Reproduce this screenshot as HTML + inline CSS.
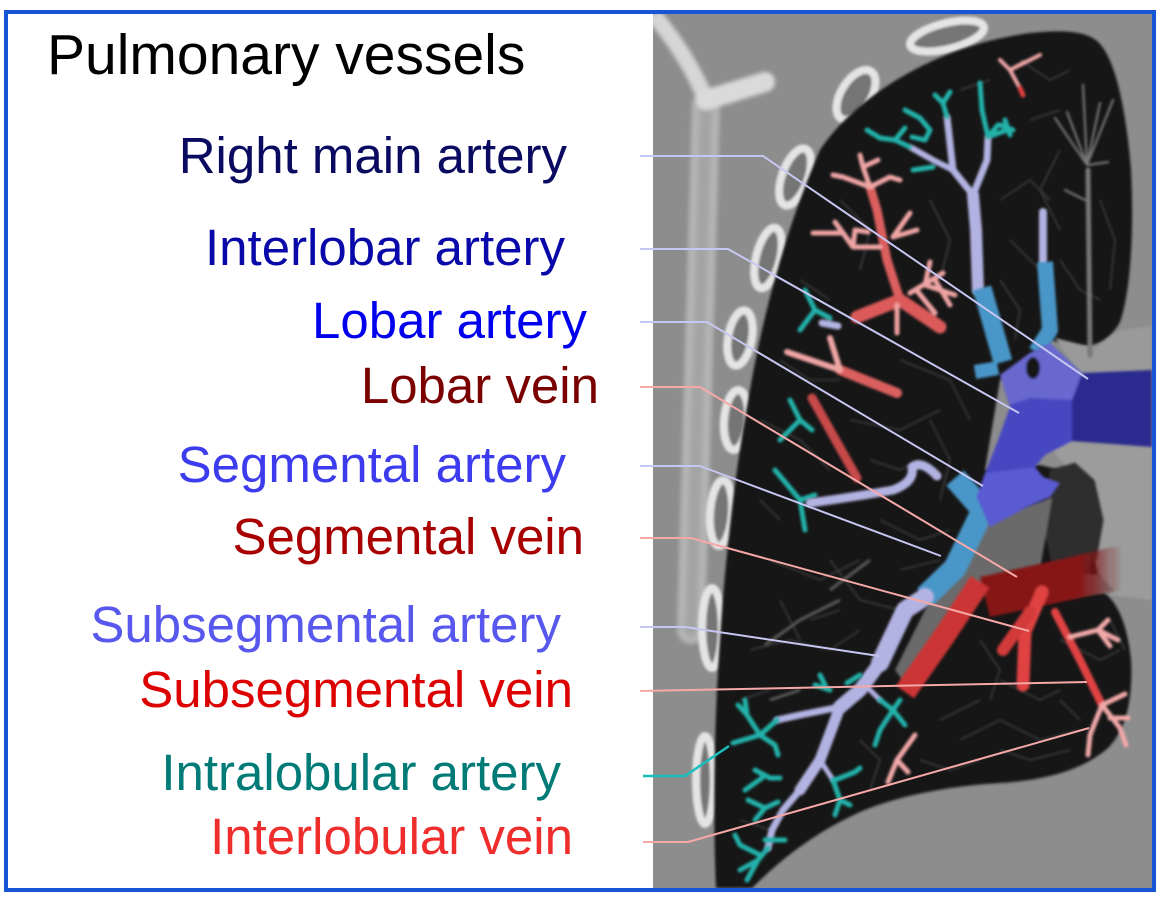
<!DOCTYPE html>
<html><head><meta charset="utf-8"><style>
html,body{margin:0;padding:0;background:#fff;}
svg{display:block;}
text{font-family:"Liberation Sans",Arial,sans-serif;}
</style></head><body>
<svg width="1170" height="902" viewBox="0 0 1170 902" xmlns="http://www.w3.org/2000/svg">
<defs>
<clipPath id="ct"><rect x="653" y="14" width="499" height="874"/></clipPath>
<filter id="b1" x="-20%" y="-20%" width="140%" height="140%"><feGaussianBlur stdDeviation="1.2"/></filter>
<filter id="b2" x="-20%" y="-20%" width="140%" height="140%"><feGaussianBlur stdDeviation="2.2"/></filter>
<filter id="b4" x="-20%" y="-20%" width="140%" height="140%"><feGaussianBlur stdDeviation="4"/></filter>
<linearGradient id="lv" gradientUnits="userSpaceOnUse" x1="1080" y1="0" x2="1122" y2="0">
<stop offset="0" stop-color="#861616" stop-opacity="1"/>
<stop offset="1" stop-color="#861616" stop-opacity="0"/>
</linearGradient>
</defs>
<rect width="1170" height="902" fill="#fff"/>

<g clip-path="url(#ct)">
<rect x="653" y="14" width="499" height="874" fill="#8d8d8d"/>
<!-- bone Y -->
<g filter="url(#b2)" fill="none" stroke-linecap="round">
<path d="M706,105 Q700,300 691,630" stroke="#b4b4b4" stroke-width="28"/>
<path d="M706,105 Q700,300 691,630" stroke="#a4a4a4" stroke-width="12"/>
<path d="M658,20 Q690,60 706,100" stroke="#d6d6d6" stroke-width="16"/>
<path d="M706,100 L765,82" stroke="#dadada" stroke-width="20"/>
</g>
<!-- ribs -->
<g filter="url(#b1)" stroke="#e4e4e4" stroke-width="8" fill="#747474">
<ellipse cx="947" cy="36" rx="38" ry="13" transform="rotate(-14 947 36)"/>
<ellipse cx="856" cy="95" rx="15" ry="28" transform="rotate(32 856 95)"/>
<ellipse cx="795" cy="177" rx="13" ry="30" transform="rotate(20 795 177)"/>
<ellipse cx="768" cy="258" rx="12" ry="31" transform="rotate(14 768 258)"/>
<ellipse cx="740" cy="338" rx="12" ry="28" transform="rotate(10 740 338)"/>
<ellipse cx="736" cy="420" rx="12" ry="30" transform="rotate(5 736 420)"/>
<ellipse cx="721" cy="513" rx="11" ry="33" transform="rotate(4 721 513)"/>
<ellipse cx="712" cy="628" rx="10" ry="40"/>
<ellipse cx="705" cy="780" rx="9" ry="44"/>
</g>
<!-- lung -->
<path filter="url(#b1)" fill="#181818" d="M820,150 C840,120 870,95 905,75 C940,55 980,40 1030,33 C1060,30 1088,30 1100,44 C1116,62 1126,110 1131,170 C1134,230 1131,290 1120,322 C1110,340 1095,348 1075,346 L1050,340 L1040,360 L1000,380 L985,470 L1040,465 L1060,470 L1090,478 L1102,520 L1095,560 L1100,590 C1115,598 1127,620 1131,660 C1133,700 1126,730 1108,748 C1085,768 1050,780 1000,783 C950,786 900,795 860,812 C820,830 785,855 752,888 L716,888 C713,820 714,720 720,640 C725,560 735,470 750,390 C762,320 785,230 820,150 Z"/>
<!-- mediastinum / hilum grays -->
<g filter="url(#b1)">
<path d="M1055,338 L1095,348 L1120,330 L1152,326 L1152,380 L1082,378 Z" fill="#9a9a9a"/>
<path d="M1045,442 L1152,440 L1152,600 L1110,595 L1095,560 L1070,470 Z" fill="#9c9c9c"/>
<path d="M1050,470 L1075,462 L1095,480 L1104,520 L1097,560 L1078,572 L1052,565 L1042,520 Z" fill="#2e2e2e"/>
<path d="M985,520 L1030,505 L1052,498 L1045,540 L1040,570 L990,585 L960,600 L935,645 L910,690 L895,670 L925,610 L960,565 Z" fill="#6a6a6a"/>
<path d="M1040,570 L1100,575 L1115,592 L1040,600 Z" fill="#7a7a7a"/>
</g>
<!-- lung texture -->
<g fill="none" stroke="#424242" stroke-width="1.6" opacity=".9" filter="url(#b1)">
<path d="M760,420 L800,440 L830,470"/><path d="M770,560 L820,580 L860,560"/>
<path d="M750,650 L790,640 L830,650 L860,630"/><path d="M880,520 L920,540 L950,530"/>
<path d="M850,420 L900,430 L940,410"/><path d="M900,360 L950,380 L970,420"/>
<path d="M960,740 L1000,720 L1040,740 L1080,730"/><path d="M1000,680 L1040,700 L1060,690"/>
<path d="M1060,640 L1100,660 L1120,650"/><path d="M940,720 L980,700"/>
<path d="M1010,240 L1040,270"/><path d="M1000,200 L1030,180 L1050,200"/>
<path d="M830,560 L860,600 L900,610"/><path d="M780,600 L800,640"/>
<path d="M930,420 L950,460 L940,500"/><path d="M1060,150 L1040,190 L1060,230"/>
<path d="M840,200 L870,230 L860,270"/><path d="M930,200 L950,240 L940,280"/>
<path d="M1000,280 L1020,310 L1015,340"/><path d="M1060,260 L1080,290 L1100,300"/>
<path d="M1100,200 L1115,240 L1110,290"/><path d="M1020,60 L1050,80 L1070,70"/>
<path d="M960,90 L990,80"/><path d="M1030,120 L1060,110"/>
<path d="M800,280 L830,300"/><path d="M780,360 L810,380 L840,380"/>
<path d="M870,460 L900,470 L920,460"/><path d="M760,500 L780,520"/>
<path d="M740,700 L770,690"/><path d="M740,820 L770,830"/>
<path d="M860,740 L880,760 L870,790"/><path d="M920,760 L950,770 L980,760"/>
<path d="M1000,750 L1030,760 L1070,750"/><path d="M1060,700 L1080,720"/>
<path d="M1110,620 L1125,650"/><path d="M980,640 L1000,670 L990,700"/>
<path d="M900,570 L940,560"/><path d="M810,620 L840,610"/>
</g>
<g fill="none" stroke="#5a5a5a" stroke-width="3" filter="url(#b1)">
<path d="M765,645 L800,620 L840,600"/><path d="M770,700 L800,690"/>
<path d="M830,590 L870,560"/>
</g>
<!-- gray tree upper right -->
<g fill="none" stroke="#777" stroke-linecap="round" filter="url(#b1)">
<path d="M1088,170 L1090,355" stroke-width="5"/>
<path d="M1087,165 L1055,118 M1087,165 L1067,112 M1087,165 L1083,85 M1087,165 L1100,103 M1087,165 L1113,100 M1088,165 L1108,162 M1085,200 L1065,190" stroke-width="2.2"/>
</g>

<!-- upper red veins -->
<g fill="none" stroke-linecap="round" stroke-linejoin="round" filter="url(#b1)">
<path d="M900,300 L887,260 L877,210 L870,187" stroke="#dc5f5f" stroke-width="9"/>
<path d="M857,317 L900,300 L940,327" stroke="#dc5a5a" stroke-width="13"/>
<path d="M897,333 L897,305" stroke="#f0a0a0" stroke-width="5"/>
<g stroke="#f0a4a4" stroke-width="5">
<path d="M870,187 L843,177 L833,175 M870,187 L863,167 L860,155 M870,187 L890,177 L900,180 M863,167 L878,160"/>
<path d="M880,247 L853,247 L855,230 L868,232 M853,247 L843,233 L813,233 M843,233 L835,222"/>
<path d="M893,237 L910,213 M893,237 L917,230"/>
<path d="M910,293 L943,273 M925,285 L930,262 M925,285 L955,295 M935,280 L950,305 M918,292 L935,313"/>
</g>
<path d="M897,393 L840,370" stroke="#dc5f5f" stroke-width="10"/>
<path d="M840,370 L830,338 M840,370 L787,352" stroke="#f0a4a4" stroke-width="6"/>
<path d="M812,398 L857,478" stroke="#c84a4a" stroke-width="9"/>
<path d="M1022,92 L1010,70 L1000,60 M1010,70 L1040,55 M1010,70 L1025,62" stroke="#f0a4a4" stroke-width="4"/>
<path d="M1020,88 L1023,95" stroke="#e04040" stroke-width="5"/>
</g>

<!-- upper arteries lavender + teal -->
<g fill="none" stroke-linecap="round" stroke-linejoin="round" filter="url(#b1)">
<path d="M978,290 L976,230 L973,195" stroke="#b3b3e3" stroke-width="12"/>
<path d="M973,195 L953,170 L947,117" stroke="#b3b3e3" stroke-width="7"/>
<path d="M953,170 L933,160 L910,147" stroke="#b3b3e3" stroke-width="6"/>
<path d="M973,195 L987,160 L988,137" stroke="#b3b3e3" stroke-width="7"/>
<path d="M1043,212 L1043,262" stroke="#b3b3e3" stroke-width="8"/>
<g stroke="#22b2aa" stroke-width="5">
<path d="M947,117 L943,103 L935,95 M943,103 L950,92"/>
<path d="M988,137 L982,110 L980,83 M988,137 L1007,130 M988,137 L998,125"/>
<path d="M910,147 L895,140 L880,138 L867,130 M895,140 L905,128"/>
<path d="M905,110 L920,118 L930,130 L925,140 L912,137"/>
<path d="M913,170 L933,167"/>
<path d="M1000,125 L1013,130 M1005,120 L1010,135"/>
</g>
<g stroke="#22b2aa" stroke-width="5">
<path d="M805,290 L815,310 L800,330 M815,310 L830,318"/>
<path d="M790,400 L800,420 L780,440 M800,420 L812,430"/>
<path d="M775,470 L800,500 L805,530 M800,500 L815,495"/>
</g>
<path d="M822,323 L838,326" stroke="#b3b3e3" stroke-width="7"/>
</g>

<!-- lobar arteries steel blue -->
<g fill="none" stroke="#4a96c8" stroke-linejoin="round" filter="url(#b1)">
<path d="M982,288 L1003,362" stroke-width="19"/>
<path d="M975,372 L998,368" stroke-width="14"/>
<path d="M1045,262 L1050,330 L1036,352" stroke-width="16"/>
<path d="M955,478 L983,510 L955,568 L925,597" stroke-width="23"/>
</g>

<!-- central pulmonary arteries -->
<g filter="url(#b1)">
<path d="M1082,373 L1152,370 L1152,447 L1072,441 Q1066,400 1082,373 Z" fill="#2b2b8f"/>
<path d="M1000,375 L1030,353 L1050,343 L1082,373 L1072,400 L1072,441 L1045,455 L1035,467 L1043,477 L1060,483 L1050,497 L1027,507 L990,527 L977,497 L985,473 L997,443 L1010,407 Z" fill="#4646c2"/>
<path d="M1000,375 L1030,353 L1050,343 L1082,373 L1072,400 L1030,398 L1010,405 Z" fill="#6767cf"/>
<path d="M977,497 L985,473 L1035,467 L1043,477 L1060,483 L1050,497 L1027,507 L990,527 Z" fill="#5a5ad2"/>
<ellipse cx="1033" cy="368" rx="7" ry="11" fill="#121212"/>
</g>

<!-- segmental / subsegmental lavender -->
<g fill="none" stroke="#b3b3e3" stroke-linecap="round" stroke-linejoin="round" filter="url(#b1)">
<path d="M810,503 Q860,496 893,490 Q915,482 912,467 Q922,460 937,476" stroke-width="9"/>
<path d="M925,597 L905,610 L880,663" stroke-width="18"/>
<path d="M880,663 L860,690 L840,707" stroke-width="14"/>
<path d="M840,707 L820,760 L800,790" stroke-width="11"/>
<path d="M800,790 L783,810 L772,830 L768,848" stroke-width="7"/>
<path d="M840,707 L800,715 L777,720" stroke-width="7"/>
<path d="M870,690 L880,700" stroke-width="5"/>
<path d="M820,760 L833,780" stroke-width="5"/>
</g>
<!-- lower teal -->
<g fill="none" stroke="#22b2aa" stroke-width="5" stroke-linecap="round" stroke-linejoin="round" filter="url(#b1)">
<path d="M777,720 L760,735 L733,743 M760,735 L747,715 L738,705 M760,735 L775,745 L778,755 M747,715 L745,700"/>
<path d="M768,848 L758,860 L747,880 M758,860 L740,870 M760,855 L740,845 L735,835 M765,840 L785,840"/>
<path d="M755,770 L770,778 L780,778 M762,778 L745,790"/>
<path d="M748,800 L765,808 L778,802 M765,808 L755,820"/>
<path d="M833,780 L840,800 L835,815 M840,800 L850,805 M835,780 L855,772 L860,768"/>
<path d="M880,700 L893,710 L900,700 M893,710 L880,730 L875,745 M893,710 L905,725"/>
<path d="M815,685 L830,690 M825,685 L820,675"/>
<path d="M847,683 L860,675"/>
</g>

<!-- lower veins -->
<g filter="url(#b1)" stroke-linecap="round" stroke-linejoin="round">
<path d="M980,577 L1080,555 L1080,598 L990,617 Z" fill="#861616"/>
<path d="M1078,555 L1122,545 L1122,590 L1078,598 Z" fill="url(#lv)"/>
<g fill="none">
<path d="M980,582 L945,635 L905,692" stroke="#cc3434" stroke-width="22" stroke-linecap="butt"/>
<path d="M1042,592 L1025,632 L1023,685" stroke="#e04242" stroke-width="13"/>
<path d="M1030,612 L1003,650" stroke="#d33a3a" stroke-width="12"/>
<path d="M1055,612 L1080,660 L1102,705" stroke="#e04242" stroke-width="8"/>
<g stroke="#f2a8a8" stroke-width="5">
<path d="M1102,705 L1125,694 M1102,705 L1120,728 L1126,745 M1102,705 L1090,735 L1088,755 M1110,718 L1128,718"/>
<path d="M1070,637 L1098,630 L1118,640 M1098,630 L1108,620 M1098,630 L1110,646"/>
<path d="M915,735 L897,760 L888,782 M897,760 L908,772"/>
</g>
</g>
</g>
</g>

<!-- border -->
<rect x="6" y="12" width="1148" height="878" fill="none" stroke="#1656d4" stroke-width="4"/>

<!-- connectors -->
<g fill="none" stroke-width="2" stroke-linejoin="round">
<path d="M640,156 L763,156 L1088,379" stroke="#c6c6f2"/>
<path d="M640,249 L728,249 L1019,413" stroke="#c6c6f2"/>
<path d="M640,322 L707,322 L983,486" stroke="#c6c6f2"/>
<path d="M640,387 L700,387 L1017,577" stroke="#f6a8a8"/>
<path d="M640,466 L700,466 L941,556" stroke="#c6c6f2"/>
<path d="M640,538 L691,538 L1029,631" stroke="#f6a8a8"/>
<path d="M640,627 L685,627 L879,656" stroke="#c6c6f2"/>
<path d="M640,691 L1087,682" stroke="#f6a8a8"/>
<path d="M643,776 L685,776 L729,746" stroke="#19bfbf" stroke-width="2.5"/>
<path d="M643,842 L688,842 L1089,728" stroke="#f6a8a8"/>
</g>

<!-- labels -->
<text x="47" y="74" font-size="57" fill="#000">Pulmonary vessels</text>
<g font-size="51" text-anchor="end">
<text x="567" y="173" fill="#0a0a60">Right main artery</text>
<text x="565" y="265" fill="#0909aa">Interlobar artery</text>
<text x="587" y="338" fill="#0000ee">Lobar artery</text>
<text x="599" y="403" fill="#7a0000">Lobar vein</text>
<text x="566" y="482" fill="#3c3cee">Segmental artery</text>
<text x="584" y="554" fill="#a80000">Segmental vein</text>
<text x="561" y="642" fill="#5858ee">Subsegmental artery</text>
<text x="573" y="707" fill="#dc0000">Subsegmental vein</text>
<text x="561" y="790" fill="#007b77">Intralobular artery</text>
<text x="573" y="854" fill="#f02d2d">Interlobular vein</text>
</g>
</svg>
</body></html>
